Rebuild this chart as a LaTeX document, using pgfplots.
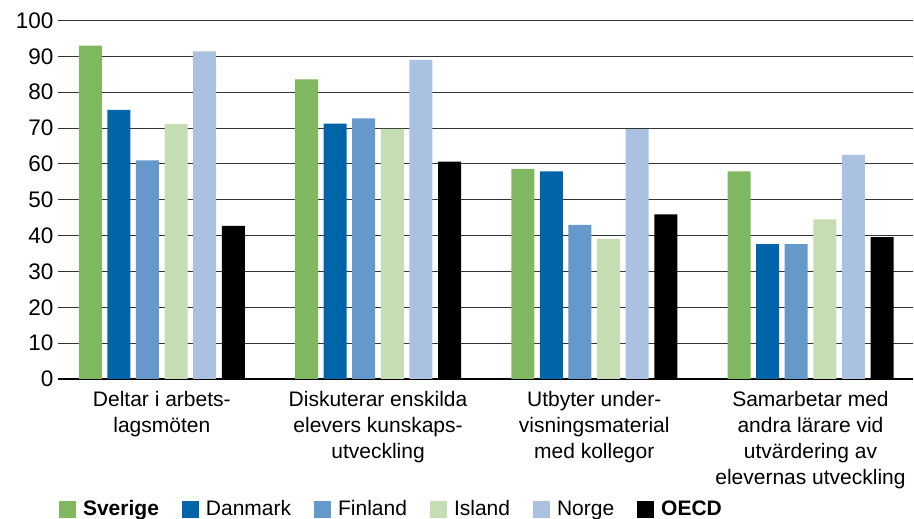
\documentclass[border=0pt]{standalone}
\usepackage{fontspec}
\setmainfont{Liberation Sans}
\usepackage{pgfplots}
\pgfplotsset{compat=1.18}
\definecolor{cSve}{HTML}{80B761}
\definecolor{cDan}{HTML}{0064A8}
\definecolor{cFin}{HTML}{6699CB}
\definecolor{cIsl}{HTML}{C5DDB3}
\definecolor{cNor}{HTML}{ABC1E2}
\definecolor{cOec}{HTML}{000000}
\begin{document}
\begin{tikzpicture}[x=1pt,y=1pt]
\useasboundingbox (0,0) rectangle (914,519);
\begin{axis}[
  at={(58pt,140pt)}, anchor=south west,
  scale only axis, width=855pt, height=358.5pt,
  ybar=5.6pt, bar width=23pt,
  xmin=-0.48, xmax=3.474, ymin=0, ymax=100,
  ytick={0,10,...,100},
  xtick={0,1,2,3},
  xticklabels={{Deltar i arbets-\\lagsmöten},{Diskuterar enskilda\\elevers kunskaps-\\utveckling},{Utbyter under-\\visningsmaterial\\med kollegor},{Samarbetar med\\andra lärare vid\\utvärdering av\\elevernas utveckling}},
  xticklabel style={align=center, font=\fontsize{21}{26}\selectfont, yshift=-9pt},
  yticklabel style={font=\fontsize{22.5}{26}\selectfont, xshift=-1pt},
  /pgf/number format/assume math mode=true,
  axis x line*=bottom, axis y line*=left,
  y axis line style={draw=none},
  x axis line style={black, line width=1.2pt},
  major tick length=0pt,
  ymajorgrids, major grid style={black!80, line width=1pt},
  legend columns=6,
  legend style={at={(0.001,-0.363)}, anchor=west, draw=none, inner sep=0pt,
    font=\fontsize{21}{26}\selectfont,
    /tikz/every even column/.append style={column sep=21pt}},
  legend image code/.code={\fill[#1] (0pt,-8.5pt) rectangle (17pt,8.5pt); \path (22pt,0pt);},
]
\addplot[fill=cSve, draw=none] coordinates {(0,93.0) (1,83.6) (2,58.6) (3,57.9)};
\addplot[fill=cDan, draw=none] coordinates {(0,75.1) (1,71.2) (2,57.9) (3,37.6)};
\addplot[fill=cFin, draw=none] coordinates {(0,61.0) (1,72.7) (2,43.0) (3,37.6)};
\addplot[fill=cIsl, draw=none] coordinates {(0,71.1) (1,69.8) (2,39.1) (3,44.5)};
\addplot[fill=cNor, draw=none] coordinates {(0,91.4) (1,89.0) (2,69.7) (3,62.5)};
\addplot[fill=cOec, draw=none] coordinates {(0,42.7) (1,60.6) (2,45.9) (3,39.6)};
\legend{\textbf{Sverige},Danmark,Finland,Island,Norge,\textbf{OECD}}
\end{axis}
\end{tikzpicture}
\end{document}
